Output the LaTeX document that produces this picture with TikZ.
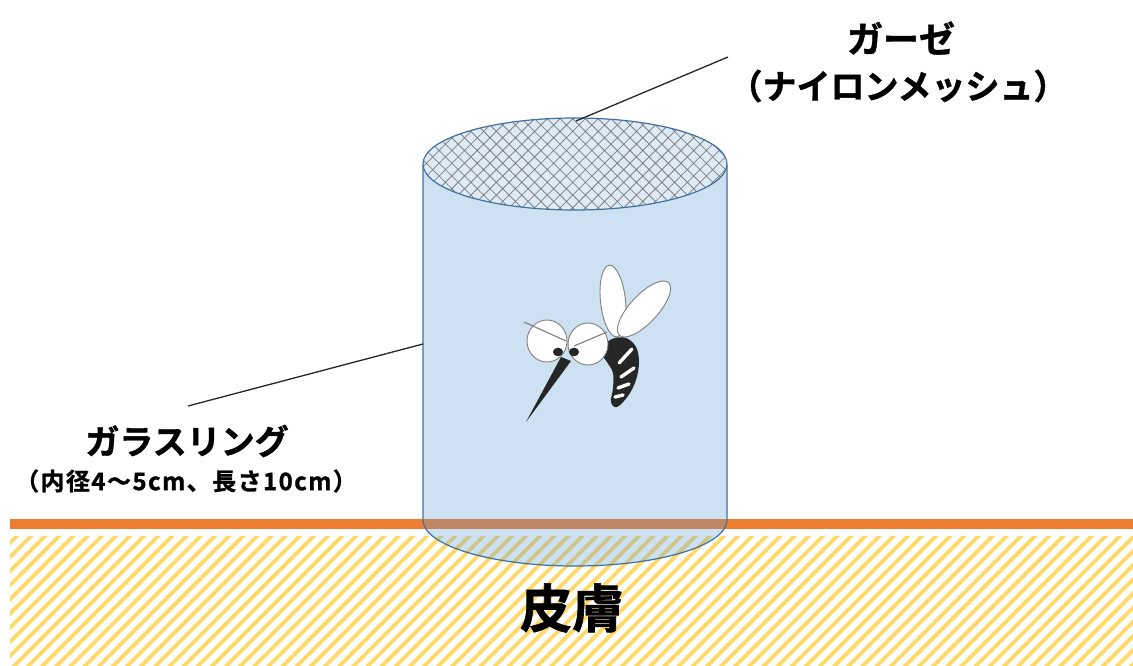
\documentclass[tikz,border=0pt]{standalone}
\usepackage{fontspec}
\newfontfamily\jpbold{Noto Sans CJK JP Bold}[FakeBold=1.2]
\usetikzlibrary{patterns.meta}

\definecolor{ringblue}{HTML}{5B9BD5}
\definecolor{ringedge}{HTML}{41719C}
\definecolor{meshfill}{HTML}{DEEBF7}
\definecolor{meshline}{HTML}{808080}
\definecolor{skinedge}{HTML}{ED7D31}
\definecolor{skinhatch}{HTML}{FFD966}
\definecolor{insect}{HTML}{262626}
\definecolor{insectline}{HTML}{7F7F7F}

\tikzset{
  leader/.style={draw=black!85, line width=1.3pt},
  heading/.style={font=\jpbold\fontsize{34}{34}\selectfont, inner sep=0pt},
  subheading/.style={font=\jpbold\fontsize{24}{24}\selectfont\addfontfeature{LetterSpace=6}, inner sep=0pt},
  skinlabel/.style={font=\jpbold\fontsize{52}{52}\selectfont, inner sep=0pt},
  wing/.style={fill=white, draw=insectline, line width=0.9pt},
  eyeball/.style={fill=white, draw=insectline, line width=0.9pt},
  stripe/.style={draw=white, line width=3.4pt, line cap=round},
  brow/.style={draw=insectline, line width=1.1pt},
}

\begin{document}
\begin{tikzpicture}[x=1pt, y=1pt]
\useasboundingbox (0,0) rectangle (1133,-666);

% skin: hatched tissue and its orange surface
\fill[pattern={Lines[angle=45, distance=10pt, line width=3.8pt]}, pattern color=skinhatch]
  (10,-536) rectangle (1133,-666);
\fill[skinedge] (10,-519) rectangle (1133,-529);

% glass ring (translucent cylinder)
\fill[ringblue, fill opacity=0.3]
  (423,-165) -- (423,-520) arc[start angle=180, end angle=360, x radius=152, y radius=46]
  -- (727,-165) -- cycle;
\draw[ringedge, line width=1.2pt]
  (423,-165) -- (423,-520) arc[start angle=180, end angle=360, x radius=152, y radius=46]
  -- (727,-165);

% gauze on top of the ring
\path[preaction={fill=meshfill},
      pattern={Hatch[angle=45, distance=9pt, line width=0.8pt]}, pattern color=meshline]
  (575,-164) ellipse[x radius=152, y radius=46];
\draw[ringedge, line width=1.2pt] (575,-164) ellipse[x radius=152, y radius=46];

% mosquito: wings
\path[wing] (613,-301) ellipse[x radius=12.5, y radius=36, rotate=6];
\path[wing] (644,-309) ellipse[x radius=36, y radius=14, rotate=47];
% abdomen
\fill[insect] plot[smooth cycle, tension=0.6] coordinates {
  (600,-350) (612,-339) (626,-338) (636,-347) (639,-362) (636,-380)
  (628,-396) (617,-407) (611,-402) (613,-388) (613,-373) (607,-362)};
\draw[stripe] (619,-363) -- (632,-349);
\draw[stripe] (621,-377) -- (634,-368);
\draw[stripe] (618,-388) -- (629,-384);
\draw[stripe] (615,-397) -- (623,-395);
% proboscis
\fill[insect] (561,-357) -- (571,-361) -- (526,-422) -- cycle;
% eyes
\path[eyeball] (547,-341) ellipse[x radius=20, y radius=21];
\path[eyeball] (588,-344) ellipse[x radius=20, y radius=21];
\fill[insect] (558,-352) ellipse[x radius=5, y radius=4.3];
\fill[insect] (574,-352) ellipse[x radius=5, y radius=4.3];
\draw[brow] (524,-322) -- (566,-341);
\draw[brow] (574,-346) -- (607,-332);

% labels
\node[heading, font=\jpbold\fontsize{36}{36}\selectfont] (gauzetitle) at (901,-38) {ガーゼ};
\node[heading] (gauzesub) at (898,-86) {（ナイロンメッシュ）};
\node[heading] (ringtitle) at (187,-441) {ガラスリング};
\node[subheading] (ringsub) at (186,-481) {（内径4～5cm、長さ10cm）};
\node[skinlabel] (skin) at (572,-608) {皮膚};

% leader lines
\coordinate (gauzeend) at (728,-57);
\coordinate (gauzetip) at (576,-121);
\coordinate (ringend) at (188,-406);
\coordinate (ringtip) at (423,-344);
\draw[leader] (gauzeend) -- (gauzetip);
\draw[leader] (ringend) -- (ringtip);
\end{tikzpicture}
\end{document}
